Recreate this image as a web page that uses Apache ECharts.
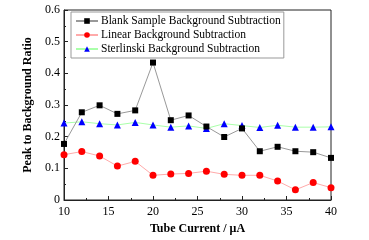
<!DOCTYPE html>
<html>
<head>
<meta charset="utf-8">
<script src="https://cdn.jsdelivr.net/npm/echarts@6/dist/echarts.min.js"></script>
<style>
  html, body { margin: 0; padding: 0; background: #fff; }
  #chart { width: 369px; height: 240px; }
</style>
</head>
<body>
<div id="chart"></div>
<script>
// tube current (uA)
const current = [10, 12, 14, 16, 18, 20, 22, 24, 26, 28, 30, 32, 34, 36, 38, 40];
const blankSample = [0.177, 0.277, 0.299, 0.272, 0.283, 0.434, 0.252, 0.267, 0.232, 0.199, 0.226, 0.154, 0.168, 0.154, 0.151, 0.133];
const linearBg = [0.143, 0.153, 0.139, 0.107, 0.122, 0.078, 0.082, 0.084, 0.091, 0.081, 0.078, 0.078, 0.060, 0.032, 0.055, 0.039];
const sterlinski = [0.243, 0.247, 0.241, 0.237, 0.245, 0.237, 0.230, 0.234, 0.226, 0.241, 0.235, 0.229, 0.236, 0.230, 0.230, 0.231];

const seriesNames = [
  "Blank Sample Background Subtraction",
  "Linear Background Subtraction",
  "Sterlinski Background Subtraction",
];

const font = "'Liberation Serif', 'DejaVu Serif', serif";
const pairs = (ys) => current.map((x, i) => [x, ys[i]]);

const chart = echarts.init(document.getElementById("chart"));

const option = {
  animation: false,
  backgroundColor: "#fff",
  grid: {
    left: 64,
    right: 38,
    top: 10,
    bottom: 37,
    show: true,
    borderColor: "#222",
    borderWidth: 1,
  },
  legend: {
    left: 71,
    top: 12,
    orient: "vertical",
    itemGap: 2,
    itemWidth: 22,
    itemHeight: 7,
    padding: [3, 3, 3, 4],
    borderColor: "#999",
    borderWidth: 1,
    backgroundColor: "#fff",
    textStyle: { fontFamily: font, fontSize: 11.5, color: "#000", padding: [0, 0, 0, -2] },
    data: seriesNames,
  },
  xAxis: {
    type: "value",
    min: 10,
    max: 40,
    interval: 5,
    name: "Tube Current / μA",
    nameLocation: "middle",
    nameGap: 23,
    nameTextStyle: { fontFamily: font, fontSize: 12, fontWeight: "bold", color: "#000" },
    axisLine: { lineStyle: { color: "#222", width: 1 } },
    axisTick: { inside: true, length: 4, lineStyle: { color: "#222" } },
    minorTick: { show: true, splitNumber: 2, length: 2, lineStyle: { color: "#222" } },
    axisLabel: { fontFamily: font, fontSize: 12, color: "#000", margin: 6 },
    splitLine: { show: false },
  },
  yAxis: {
    type: "value",
    min: 0,
    max: 0.6,
    interval: 0.1,
    name: "Peak to Background Ratio",
    nameLocation: "middle",
    nameGap: 29,
    nameTextStyle: { fontFamily: font, fontSize: 12, fontWeight: "bold", color: "#000" },
    axisLine: { show: true, lineStyle: { color: "#222", width: 1 } },
    axisTick: { show: true, inside: true, length: 4, lineStyle: { color: "#222" } },
    minorTick: { show: true, splitNumber: 2, length: 2, lineStyle: { color: "#222" } },
    axisLabel: { fontFamily: font, fontSize: 12, color: "#000", margin: 4 },
    splitLine: { show: false },
  },
  series: [
    {
      name: seriesNames[0],
      type: "line",
      data: pairs(blankSample),
      symbol: "rect",
      symbolSize: 6,
      itemStyle: { color: "#000" },
      lineStyle: { color: "#999", width: 1 },
      z: 3,
    },
    {
      name: seriesNames[1],
      type: "line",
      data: pairs(linearBg),
      symbol: "circle",
      symbolSize: 7,
      itemStyle: { color: "#f00" },
      lineStyle: { color: "#ffaaaa", width: 1 },
      z: 2,
    },
    {
      name: seriesNames[2],
      type: "line",
      data: pairs(sterlinski),
      symbol: "triangle",
      symbolSize: 7,
      itemStyle: { color: "#00f" },
      lineStyle: { color: "#aaffaa", width: 1 },
      z: 2,
    },
  ],
};

chart.setOption(option);
</script>
</body>
</html>
